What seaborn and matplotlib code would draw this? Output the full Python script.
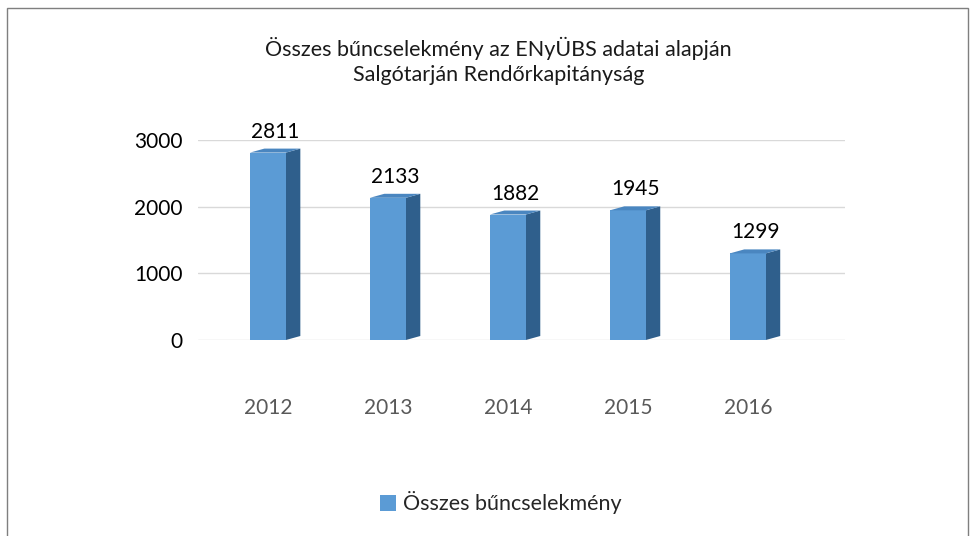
import matplotlib
matplotlib.use("Agg")
import matplotlib.pyplot as plt
import seaborn as sns
import pandas as pd
from matplotlib.patches import Polygon, Rectangle

years = ["2012", "2013", "2014", "2015", "2016"]
counts = [2811, 2133, 1882, 1945, 1299]
series_name = "Összes bűncselekmény"
title = "Összes bűncselekmény az ENyÜBS adatai alapján\nSalgótarján Rendőrkapitányság"

front_color = "#5B9BD5"
side_color = "#2F5F8C"
top_color = "#4A86C0"

sns.set_theme(style="white")
plt.rcParams["font.family"] = ["Lato", "DejaVu Sans"]

df = pd.DataFrame({"year": years, "count": counts})

fig = plt.figure(figsize=(9.76, 5.36), dpi=100)
ax = fig.add_axes([198 / 976, 1 - 340 / 536, 647 / 976, 200 / 536])

sns.barplot(data=df, x="year", y="count", color=front_color, width=0.3,
            saturation=1, linewidth=0, ax=ax, zorder=3)

ax.set_xlim(-0.583, 4.81)
ax.set_ylim(0, 3000)
ax.set_yticks([0, 1000, 2000, 3000])
ax.yaxis.grid(True, color="#D9D9D9", linewidth=1)
ax.set_axisbelow(True)
for s in ax.spines.values():
    s.set_visible(False)
ax.tick_params(axis="y", length=0, pad=11, labelsize=15, labelcolor="black")
ax.tick_params(axis="x", length=0, pad=42, labelsize=15, labelcolor="#595959")
ax.set_xlabel("")
ax.set_ylabel("")

# fake 3D side and top faces from the drawn bars
depth = 0.12
lift = 60
for p, v in zip(ax.patches, counts):
    x0 = p.get_x()
    x1 = x0 + p.get_width()
    h = p.get_height()
    side = Polygon([(x1, 0), (x1 + depth, lift), (x1 + depth, h + lift), (x1, h)],
                   closed=True, facecolor=side_color, edgecolor="none", zorder=2)
    top = Polygon([(x0, h), (x1, h), (x1 + depth, h + lift), (x0 + depth, h + lift)],
                  closed=True, facecolor=top_color, edgecolor="none", zorder=4)
    top.set_clip_on(False)
    side.set_clip_on(False)
    ax.add_patch(side)
    ax.add_patch(top)
    ax.annotate(f"{v}", (x0 + p.get_width() / 2 + depth / 2, h + lift),
                xytext=(0, 5), textcoords="offset points",
                ha="center", va="bottom", fontsize=15, color="black")

fig.text(0.511, 1 - 61 / 536, title, ha="center", va="center",
         fontsize=15.5, linespacing=1.3, color="#1A1A1A")

handle = Rectangle((0, 0), 1, 1, facecolor=front_color, edgecolor="none")
fig.legend([handle], [series_name], loc="center", bbox_to_anchor=(0.513, 1 - 503 / 536),
           frameon=False, fontsize=15.5, handlelength=0.75, handleheight=0.75,
           handletextpad=0.3)

fig.patches.append(Rectangle((7 / 976, -0.01), 961 / 976, 1 - 8 / 536 + 0.01,
                             transform=fig.transFigure, fill=False,
                             edgecolor="#7F7F7F", linewidth=1))

fig.savefig("out.png", dpi=100)
